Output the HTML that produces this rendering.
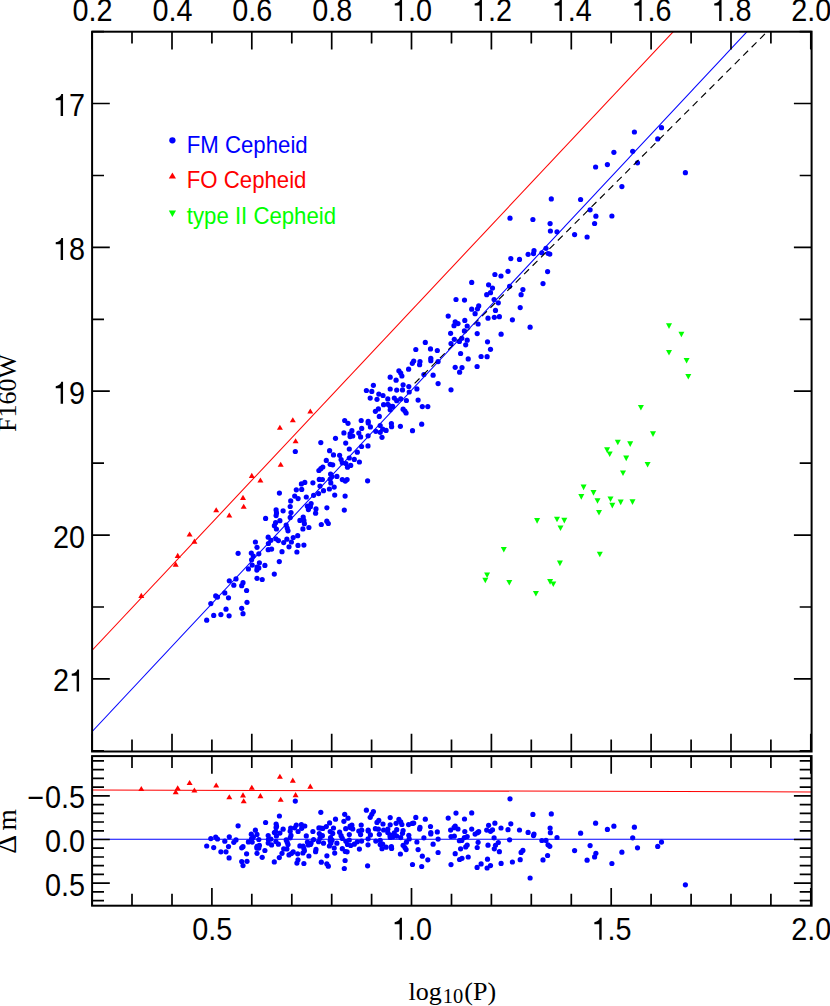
<!DOCTYPE html>
<html><head><meta charset="utf-8"><title>PL relation</title>
<style>html,body{margin:0;padding:0;background:#fff}body{width:830px;height:1006px;overflow:hidden}svg{display:block}.t{font-family:"Liberation Sans",sans-serif;font-size:28.8px;fill:#000}.s{font-family:"Liberation Serif",serif;font-size:26px;fill:#000}.l{font-family:"Liberation Sans",sans-serif;font-size:22.2px}</style></head><body>
<svg width="830" height="1006" viewBox="0 0 830 1006">
<rect width="830" height="1006" fill="#fff"/>
<clipPath id="c1"><rect x="92.1" y="31.7" width="719.5" height="719.8"/></clipPath>
<clipPath id="c2"><rect x="92.1" y="756.1" width="719.5" height="149.60000000000002"/></clipPath>
<g clip-path="url(#c1)">
<circle cx="206.7" cy="620.2" r="2.6" fill="#00f"/>
<circle cx="213.7" cy="615.4" r="2.6" fill="#00f"/>
<circle cx="220.9" cy="614.6" r="2.6" fill="#00f"/>
<circle cx="229.1" cy="615.8" r="2.6" fill="#00f"/>
<circle cx="226.0" cy="609.2" r="2.6" fill="#00f"/>
<circle cx="241.7" cy="608.3" r="2.6" fill="#00f"/>
<circle cx="243.0" cy="613.7" r="2.6" fill="#00f"/>
<circle cx="247.0" cy="602.3" r="2.6" fill="#00f"/>
<circle cx="210.8" cy="603.6" r="2.6" fill="#00f"/>
<circle cx="215.7" cy="595.9" r="2.6" fill="#00f"/>
<circle cx="217.5" cy="597.1" r="2.6" fill="#00f"/>
<circle cx="224.8" cy="592.9" r="2.6" fill="#00f"/>
<circle cx="228.5" cy="597.8" r="2.6" fill="#00f"/>
<circle cx="246.6" cy="590.5" r="2.6" fill="#00f"/>
<circle cx="233.8" cy="585.2" r="2.6" fill="#00f"/>
<circle cx="229.3" cy="580.8" r="2.6" fill="#00f"/>
<circle cx="236.0" cy="578.9" r="2.6" fill="#00f"/>
<circle cx="243.0" cy="582.7" r="2.6" fill="#00f"/>
<circle cx="241.7" cy="585.7" r="2.6" fill="#00f"/>
<circle cx="257.0" cy="578.3" r="2.6" fill="#00f"/>
<circle cx="262.2" cy="579.5" r="2.6" fill="#00f"/>
<circle cx="274.3" cy="574.1" r="2.6" fill="#00f"/>
<circle cx="248.4" cy="568.9" r="2.6" fill="#00f"/>
<circle cx="252.2" cy="565.1" r="2.6" fill="#00f"/>
<circle cx="256.8" cy="570.1" r="2.6" fill="#00f"/>
<circle cx="258.8" cy="567.9" r="2.6" fill="#00f"/>
<circle cx="257.0" cy="567.0" r="2.6" fill="#00f"/>
<circle cx="259.4" cy="562.8" r="2.6" fill="#00f"/>
<circle cx="264.9" cy="565.4" r="2.6" fill="#00f"/>
<circle cx="279.3" cy="561.6" r="2.6" fill="#00f"/>
<circle cx="251.6" cy="559.8" r="2.6" fill="#00f"/>
<circle cx="253.3" cy="556.0" r="2.6" fill="#00f"/>
<circle cx="251.3" cy="553.0" r="2.6" fill="#00f"/>
<circle cx="258.8" cy="553.8" r="2.6" fill="#00f"/>
<circle cx="238.1" cy="553.3" r="2.6" fill="#00f"/>
<circle cx="257.0" cy="547.3" r="2.6" fill="#00f"/>
<circle cx="255.4" cy="542.0" r="2.6" fill="#00f"/>
<circle cx="268.2" cy="549.7" r="2.6" fill="#00f"/>
<circle cx="271.6" cy="549.1" r="2.6" fill="#00f"/>
<circle cx="282.0" cy="551.7" r="2.6" fill="#00f"/>
<circle cx="268.4" cy="543.5" r="2.6" fill="#00f"/>
<circle cx="270.9" cy="540.3" r="2.6" fill="#00f"/>
<circle cx="268.2" cy="537.2" r="2.6" fill="#00f"/>
<circle cx="275.9" cy="538.8" r="2.6" fill="#00f"/>
<circle cx="278.4" cy="540.6" r="2.6" fill="#00f"/>
<circle cx="283.7" cy="542.6" r="2.6" fill="#00f"/>
<circle cx="286.9" cy="539.2" r="2.6" fill="#00f"/>
<circle cx="291.4" cy="542.0" r="2.6" fill="#00f"/>
<circle cx="289.0" cy="546.8" r="2.6" fill="#00f"/>
<circle cx="293.2" cy="537.5" r="2.6" fill="#00f"/>
<circle cx="274.4" cy="525.7" r="2.6" fill="#00f"/>
<circle cx="275.6" cy="522.7" r="2.6" fill="#00f"/>
<circle cx="276.4" cy="529.0" r="2.6" fill="#00f"/>
<circle cx="279.9" cy="520.7" r="2.6" fill="#00f"/>
<circle cx="286.2" cy="525.1" r="2.6" fill="#00f"/>
<circle cx="287.2" cy="528.0" r="2.6" fill="#00f"/>
<circle cx="288.0" cy="530.8" r="2.6" fill="#00f"/>
<circle cx="295.3" cy="451.5" r="2.6" fill="#00f"/>
<circle cx="320.8" cy="442.6" r="2.6" fill="#00f"/>
<circle cx="326.3" cy="460.4" r="2.6" fill="#00f"/>
<circle cx="322.8" cy="467.0" r="2.6" fill="#00f"/>
<circle cx="320.8" cy="468.7" r="2.6" fill="#00f"/>
<circle cx="318.9" cy="470.5" r="2.6" fill="#00f"/>
<circle cx="304.8" cy="482.4" r="2.6" fill="#00f"/>
<circle cx="301.4" cy="483.9" r="2.6" fill="#00f"/>
<circle cx="312.9" cy="482.8" r="2.6" fill="#00f"/>
<circle cx="319.3" cy="479.4" r="2.6" fill="#00f"/>
<circle cx="322.4" cy="479.5" r="2.6" fill="#00f"/>
<circle cx="320.0" cy="486.1" r="2.6" fill="#00f"/>
<circle cx="301.7" cy="489.4" r="2.6" fill="#00f"/>
<circle cx="296.3" cy="489.8" r="2.6" fill="#00f"/>
<circle cx="279.4" cy="493.1" r="2.6" fill="#00f"/>
<circle cx="294.7" cy="496.1" r="2.6" fill="#00f"/>
<circle cx="298.1" cy="498.6" r="2.6" fill="#00f"/>
<circle cx="306.3" cy="497.0" r="2.6" fill="#00f"/>
<circle cx="313.6" cy="495.3" r="2.6" fill="#00f"/>
<circle cx="318.6" cy="493.6" r="2.6" fill="#00f"/>
<circle cx="323.5" cy="490.7" r="2.6" fill="#00f"/>
<circle cx="290.7" cy="500.9" r="2.6" fill="#00f"/>
<circle cx="290.2" cy="506.5" r="2.6" fill="#00f"/>
<circle cx="311.1" cy="503.5" r="2.6" fill="#00f"/>
<circle cx="307.4" cy="506.2" r="2.6" fill="#00f"/>
<circle cx="310.4" cy="506.7" r="2.6" fill="#00f"/>
<circle cx="308.4" cy="509.6" r="2.6" fill="#00f"/>
<circle cx="316.0" cy="508.9" r="2.6" fill="#00f"/>
<circle cx="315.6" cy="513.2" r="2.6" fill="#00f"/>
<circle cx="326.9" cy="507.8" r="2.6" fill="#00f"/>
<circle cx="276.1" cy="509.9" r="2.6" fill="#00f"/>
<circle cx="276.5" cy="512.9" r="2.6" fill="#00f"/>
<circle cx="276.1" cy="515.6" r="2.6" fill="#00f"/>
<circle cx="283.1" cy="510.8" r="2.6" fill="#00f"/>
<circle cx="291.0" cy="512.6" r="2.6" fill="#00f"/>
<circle cx="290.2" cy="517.4" r="2.6" fill="#00f"/>
<circle cx="265.6" cy="518.4" r="2.6" fill="#00f"/>
<circle cx="303.2" cy="517.1" r="2.6" fill="#00f"/>
<circle cx="299.9" cy="520.4" r="2.6" fill="#00f"/>
<circle cx="303.9" cy="520.4" r="2.6" fill="#00f"/>
<circle cx="304.4" cy="523.7" r="2.6" fill="#00f"/>
<circle cx="308.9" cy="527.5" r="2.6" fill="#00f"/>
<circle cx="302.9" cy="528.9" r="2.6" fill="#00f"/>
<circle cx="321.3" cy="524.5" r="2.6" fill="#00f"/>
<circle cx="326.8" cy="521.2" r="2.6" fill="#00f"/>
<circle cx="328.3" cy="523.5" r="2.6" fill="#00f"/>
<circle cx="297.7" cy="535.7" r="2.6" fill="#00f"/>
<circle cx="298.0" cy="545.4" r="2.6" fill="#00f"/>
<circle cx="303.9" cy="545.1" r="2.6" fill="#00f"/>
<circle cx="296.9" cy="552.0" r="2.6" fill="#00f"/>
<circle cx="344.3" cy="510.1" r="2.6" fill="#00f"/>
<circle cx="334.7" cy="495.1" r="2.6" fill="#00f"/>
<circle cx="345.1" cy="496.1" r="2.6" fill="#00f"/>
<circle cx="329.4" cy="489.0" r="2.6" fill="#00f"/>
<circle cx="334.2" cy="487.1" r="2.6" fill="#00f"/>
<circle cx="330.8" cy="482.9" r="2.6" fill="#00f"/>
<circle cx="330.2" cy="479.0" r="2.6" fill="#00f"/>
<circle cx="332.0" cy="476.6" r="2.6" fill="#00f"/>
<circle cx="330.6" cy="474.0" r="2.6" fill="#00f"/>
<circle cx="336.9" cy="476.4" r="2.6" fill="#00f"/>
<circle cx="342.3" cy="479.6" r="2.6" fill="#00f"/>
<circle cx="345.3" cy="481.1" r="2.6" fill="#00f"/>
<circle cx="347.1" cy="479.6" r="2.6" fill="#00f"/>
<circle cx="367.6" cy="480.8" r="2.6" fill="#00f"/>
<circle cx="330.2" cy="464.3" r="2.6" fill="#00f"/>
<circle cx="332.7" cy="464.8" r="2.6" fill="#00f"/>
<circle cx="329.6" cy="450.7" r="2.6" fill="#00f"/>
<circle cx="333.5" cy="454.9" r="2.6" fill="#00f"/>
<circle cx="339.6" cy="455.3" r="2.6" fill="#00f"/>
<circle cx="341.1" cy="459.5" r="2.6" fill="#00f"/>
<circle cx="342.3" cy="462.8" r="2.6" fill="#00f"/>
<circle cx="345.9" cy="463.6" r="2.6" fill="#00f"/>
<circle cx="347.5" cy="467.2" r="2.6" fill="#00f"/>
<circle cx="350.7" cy="465.4" r="2.6" fill="#00f"/>
<circle cx="349.3" cy="458.0" r="2.6" fill="#00f"/>
<circle cx="354.3" cy="459.4" r="2.6" fill="#00f"/>
<circle cx="359.4" cy="462.0" r="2.6" fill="#00f"/>
<circle cx="357.3" cy="452.2" r="2.6" fill="#00f"/>
<circle cx="349.3" cy="449.0" r="2.6" fill="#00f"/>
<circle cx="345.7" cy="443.1" r="2.6" fill="#00f"/>
<circle cx="335.5" cy="438.3" r="2.6" fill="#00f"/>
<circle cx="343.9" cy="432.9" r="2.6" fill="#00f"/>
<circle cx="351.9" cy="430.7" r="2.6" fill="#00f"/>
<circle cx="350.1" cy="436.6" r="2.6" fill="#00f"/>
<circle cx="352.7" cy="436.0" r="2.6" fill="#00f"/>
<circle cx="358.8" cy="433.1" r="2.6" fill="#00f"/>
<circle cx="360.6" cy="436.9" r="2.6" fill="#00f"/>
<circle cx="361.7" cy="428.4" r="2.6" fill="#00f"/>
<circle cx="368.1" cy="435.8" r="2.6" fill="#00f"/>
<circle cx="361.6" cy="446.5" r="2.6" fill="#00f"/>
<circle cx="368.0" cy="445.9" r="2.6" fill="#00f"/>
<circle cx="348.0" cy="423.3" r="2.6" fill="#00f"/>
<circle cx="344.7" cy="420.5" r="2.6" fill="#00f"/>
<circle cx="361.2" cy="420.5" r="2.6" fill="#00f"/>
<circle cx="368.2" cy="421.3" r="2.6" fill="#00f"/>
<circle cx="370.4" cy="426.9" r="2.6" fill="#00f"/>
<circle cx="375.8" cy="431.3" r="2.6" fill="#00f"/>
<circle cx="380.2" cy="425.5" r="2.6" fill="#00f"/>
<circle cx="380.2" cy="432.3" r="2.6" fill="#00f"/>
<circle cx="382.7" cy="429.2" r="2.6" fill="#00f"/>
<circle cx="386.1" cy="430.4" r="2.6" fill="#00f"/>
<circle cx="382.0" cy="437.3" r="2.6" fill="#00f"/>
<circle cx="391.4" cy="423.6" r="2.6" fill="#00f"/>
<circle cx="391.6" cy="426.7" r="2.6" fill="#00f"/>
<circle cx="400.4" cy="426.3" r="2.6" fill="#00f"/>
<circle cx="412.5" cy="430.7" r="2.6" fill="#00f"/>
<circle cx="415.8" cy="349.5" r="2.6" fill="#00f"/>
<circle cx="413.7" cy="361.1" r="2.6" fill="#00f"/>
<circle cx="412.3" cy="363.3" r="2.6" fill="#00f"/>
<circle cx="408.6" cy="369.2" r="2.6" fill="#00f"/>
<circle cx="398.9" cy="370.8" r="2.6" fill="#00f"/>
<circle cx="400.7" cy="373.0" r="2.6" fill="#00f"/>
<circle cx="401.9" cy="376.0" r="2.6" fill="#00f"/>
<circle cx="390.2" cy="377.2" r="2.6" fill="#00f"/>
<circle cx="396.1" cy="380.2" r="2.6" fill="#00f"/>
<circle cx="403.1" cy="384.8" r="2.6" fill="#00f"/>
<circle cx="408.8" cy="386.5" r="2.6" fill="#00f"/>
<circle cx="373.4" cy="385.3" r="2.6" fill="#00f"/>
<circle cx="366.4" cy="390.5" r="2.6" fill="#00f"/>
<circle cx="371.8" cy="391.4" r="2.6" fill="#00f"/>
<circle cx="390.2" cy="389.0" r="2.6" fill="#00f"/>
<circle cx="396.7" cy="390.1" r="2.6" fill="#00f"/>
<circle cx="402.5" cy="389.9" r="2.6" fill="#00f"/>
<circle cx="409.2" cy="392.0" r="2.6" fill="#00f"/>
<circle cx="416.9" cy="388.9" r="2.6" fill="#00f"/>
<circle cx="378.8" cy="394.1" r="2.6" fill="#00f"/>
<circle cx="383.0" cy="395.5" r="2.6" fill="#00f"/>
<circle cx="370.2" cy="398.1" r="2.6" fill="#00f"/>
<circle cx="377.0" cy="399.3" r="2.6" fill="#00f"/>
<circle cx="387.8" cy="398.9" r="2.6" fill="#00f"/>
<circle cx="394.3" cy="398.1" r="2.6" fill="#00f"/>
<circle cx="396.7" cy="400.7" r="2.6" fill="#00f"/>
<circle cx="400.7" cy="398.9" r="2.6" fill="#00f"/>
<circle cx="406.4" cy="400.5" r="2.6" fill="#00f"/>
<circle cx="418.1" cy="400.1" r="2.6" fill="#00f"/>
<circle cx="383.6" cy="404.7" r="2.6" fill="#00f"/>
<circle cx="387.8" cy="404.3" r="2.6" fill="#00f"/>
<circle cx="389.9" cy="406.1" r="2.6" fill="#00f"/>
<circle cx="392.7" cy="406.4" r="2.6" fill="#00f"/>
<circle cx="390.2" cy="409.8" r="2.6" fill="#00f"/>
<circle cx="378.4" cy="408.9" r="2.6" fill="#00f"/>
<circle cx="375.4" cy="411.3" r="2.6" fill="#00f"/>
<circle cx="403.1" cy="409.2" r="2.6" fill="#00f"/>
<circle cx="404.9" cy="411.0" r="2.6" fill="#00f"/>
<circle cx="406.1" cy="413.0" r="2.6" fill="#00f"/>
<circle cx="379.3" cy="416.4" r="2.6" fill="#00f"/>
<circle cx="368.2" cy="423.0" r="2.6" fill="#00f"/>
<circle cx="350.1" cy="433.9" r="2.6" fill="#00f"/>
<circle cx="421.7" cy="424.2" r="2.6" fill="#00f"/>
<circle cx="422.3" cy="406.6" r="2.6" fill="#00f"/>
<circle cx="427.8" cy="406.6" r="2.6" fill="#00f"/>
<circle cx="451.0" cy="389.8" r="2.6" fill="#00f"/>
<circle cx="438.1" cy="383.6" r="2.6" fill="#00f"/>
<circle cx="433.1" cy="375.2" r="2.6" fill="#00f"/>
<circle cx="423.9" cy="374.6" r="2.6" fill="#00f"/>
<circle cx="459.6" cy="372.2" r="2.6" fill="#00f"/>
<circle cx="455.2" cy="367.3" r="2.6" fill="#00f"/>
<circle cx="462.0" cy="367.6" r="2.6" fill="#00f"/>
<circle cx="477.1" cy="366.5" r="2.6" fill="#00f"/>
<circle cx="438.1" cy="361.6" r="2.6" fill="#00f"/>
<circle cx="430.8" cy="358.3" r="2.6" fill="#00f"/>
<circle cx="430.8" cy="360.7" r="2.6" fill="#00f"/>
<circle cx="420.0" cy="361.6" r="2.6" fill="#00f"/>
<circle cx="419.6" cy="364.7" r="2.6" fill="#00f"/>
<circle cx="468.2" cy="358.9" r="2.6" fill="#00f"/>
<circle cx="481.1" cy="356.5" r="2.6" fill="#00f"/>
<circle cx="487.1" cy="356.7" r="2.6" fill="#00f"/>
<circle cx="460.6" cy="353.5" r="2.6" fill="#00f"/>
<circle cx="490.5" cy="349.3" r="2.6" fill="#00f"/>
<circle cx="430.5" cy="348.9" r="2.6" fill="#00f"/>
<circle cx="437.3" cy="350.5" r="2.6" fill="#00f"/>
<circle cx="425.3" cy="342.4" r="2.6" fill="#00f"/>
<circle cx="451.0" cy="343.5" r="2.6" fill="#00f"/>
<circle cx="454.3" cy="339.3" r="2.6" fill="#00f"/>
<circle cx="459.4" cy="341.4" r="2.6" fill="#00f"/>
<circle cx="461.8" cy="338.3" r="2.6" fill="#00f"/>
<circle cx="467.2" cy="340.2" r="2.6" fill="#00f"/>
<circle cx="465.7" cy="344.8" r="2.6" fill="#00f"/>
<circle cx="487.5" cy="341.8" r="2.6" fill="#00f"/>
<circle cx="450.6" cy="333.3" r="2.6" fill="#00f"/>
<circle cx="477.2" cy="333.6" r="2.6" fill="#00f"/>
<circle cx="501.1" cy="334.2" r="2.6" fill="#00f"/>
<circle cx="464.4" cy="330.9" r="2.6" fill="#00f"/>
<circle cx="508.0" cy="271.3" r="2.6" fill="#00f"/>
<circle cx="494.9" cy="274.5" r="2.6" fill="#00f"/>
<circle cx="501.0" cy="276.0" r="2.6" fill="#00f"/>
<circle cx="471.7" cy="282.4" r="2.6" fill="#00f"/>
<circle cx="488.6" cy="284.8" r="2.6" fill="#00f"/>
<circle cx="492.5" cy="288.1" r="2.6" fill="#00f"/>
<circle cx="490.5" cy="292.7" r="2.6" fill="#00f"/>
<circle cx="486.7" cy="294.7" r="2.6" fill="#00f"/>
<circle cx="456.0" cy="299.5" r="2.6" fill="#00f"/>
<circle cx="464.5" cy="300.1" r="2.6" fill="#00f"/>
<circle cx="494.1" cy="299.5" r="2.6" fill="#00f"/>
<circle cx="498.3" cy="302.8" r="2.6" fill="#00f"/>
<circle cx="478.7" cy="305.9" r="2.6" fill="#00f"/>
<circle cx="477.5" cy="308.8" r="2.6" fill="#00f"/>
<circle cx="471.7" cy="309.2" r="2.6" fill="#00f"/>
<circle cx="475.1" cy="313.7" r="2.6" fill="#00f"/>
<circle cx="495.5" cy="310.4" r="2.6" fill="#00f"/>
<circle cx="448.2" cy="316.1" r="2.6" fill="#00f"/>
<circle cx="499.4" cy="316.7" r="2.6" fill="#00f"/>
<circle cx="494.3" cy="317.3" r="2.6" fill="#00f"/>
<circle cx="488.0" cy="318.2" r="2.6" fill="#00f"/>
<circle cx="464.8" cy="320.4" r="2.6" fill="#00f"/>
<circle cx="455.2" cy="321.8" r="2.6" fill="#00f"/>
<circle cx="458.0" cy="323.6" r="2.6" fill="#00f"/>
<circle cx="454.0" cy="325.7" r="2.6" fill="#00f"/>
<circle cx="467.2" cy="326.0" r="2.6" fill="#00f"/>
<circle cx="478.1" cy="324.0" r="2.6" fill="#00f"/>
<circle cx="530.1" cy="327.2" r="2.6" fill="#00f"/>
<circle cx="512.4" cy="319.8" r="2.6" fill="#00f"/>
<circle cx="520.2" cy="307.6" r="2.6" fill="#00f"/>
<circle cx="521.1" cy="294.7" r="2.6" fill="#00f"/>
<circle cx="522.9" cy="289.5" r="2.6" fill="#00f"/>
<circle cx="509.6" cy="286.3" r="2.6" fill="#00f"/>
<circle cx="543.0" cy="283.6" r="2.6" fill="#00f"/>
<circle cx="547.6" cy="271.6" r="2.6" fill="#00f"/>
<circle cx="510.8" cy="258.6" r="2.6" fill="#00f"/>
<circle cx="519.5" cy="259.4" r="2.6" fill="#00f"/>
<circle cx="528.1" cy="254.3" r="2.6" fill="#00f"/>
<circle cx="533.5" cy="253.7" r="2.6" fill="#00f"/>
<circle cx="534.0" cy="250.7" r="2.6" fill="#00f"/>
<circle cx="541.9" cy="252.9" r="2.6" fill="#00f"/>
<circle cx="546.0" cy="248.3" r="2.6" fill="#00f"/>
<circle cx="548.0" cy="253.5" r="2.6" fill="#00f"/>
<circle cx="549.8" cy="254.1" r="2.6" fill="#00f"/>
<circle cx="550.4" cy="231.0" r="2.6" fill="#00f"/>
<circle cx="557.0" cy="231.8" r="2.6" fill="#00f"/>
<circle cx="550.1" cy="223.6" r="2.6" fill="#00f"/>
<circle cx="574.6" cy="234.6" r="2.6" fill="#00f"/>
<circle cx="587.1" cy="237.0" r="2.6" fill="#00f"/>
<circle cx="594.6" cy="223.5" r="2.6" fill="#00f"/>
<circle cx="613.9" cy="152.3" r="2.6" fill="#00f"/>
<circle cx="607.4" cy="164.6" r="2.6" fill="#00f"/>
<circle cx="595.6" cy="167.0" r="2.6" fill="#00f"/>
<circle cx="551.3" cy="198.9" r="2.6" fill="#00f"/>
<circle cx="580.6" cy="199.5" r="2.6" fill="#00f"/>
<circle cx="590.1" cy="209.8" r="2.6" fill="#00f"/>
<circle cx="595.9" cy="216.2" r="2.6" fill="#00f"/>
<circle cx="611.9" cy="216.0" r="2.6" fill="#00f"/>
<circle cx="532.9" cy="219.5" r="2.6" fill="#00f"/>
<circle cx="634.4" cy="132.0" r="2.6" fill="#00f"/>
<circle cx="661.5" cy="127.7" r="2.6" fill="#00f"/>
<circle cx="657.7" cy="138.9" r="2.6" fill="#00f"/>
<circle cx="632.7" cy="151.3" r="2.6" fill="#00f"/>
<circle cx="637.5" cy="162.8" r="2.6" fill="#00f"/>
<circle cx="685.4" cy="172.7" r="2.6" fill="#00f"/>
<circle cx="621.9" cy="186.6" r="2.6" fill="#00f"/>
<circle cx="510.0" cy="218.2" r="2.6" fill="#00f"/>
<path d="M307.3 413.6L313.3 413.6L310.3 408.5Z" fill="#f00"/>
<path d="M289.8 422.3L295.8 422.3L292.8 417.2Z" fill="#f00"/>
<path d="M276.9 429.8L282.9 429.8L279.9 424.7Z" fill="#f00"/>
<path d="M292.6 443.3L298.6 443.3L295.6 438.2Z" fill="#f00"/>
<path d="M277.7 466.8L283.7 466.8L280.7 461.7Z" fill="#f00"/>
<path d="M248.8 477.9L254.8 477.9L251.8 472.8Z" fill="#f00"/>
<path d="M257.4 482.5L263.4 482.5L260.4 477.4Z" fill="#f00"/>
<path d="M240.0 499.9L246.0 499.9L243.0 494.8Z" fill="#f00"/>
<path d="M240.7 508.8L246.7 508.8L243.7 503.7Z" fill="#f00"/>
<path d="M213.2 512.3L219.2 512.3L216.2 507.2Z" fill="#f00"/>
<path d="M226.3 517.6L232.3 517.6L229.3 512.5Z" fill="#f00"/>
<path d="M186.6 536.6L192.6 536.6L189.6 531.5Z" fill="#f00"/>
<path d="M191.4 543.7L197.4 543.7L194.4 538.6Z" fill="#f00"/>
<path d="M174.7 557.9L180.7 557.9L177.7 552.8Z" fill="#f00"/>
<path d="M172.7 566.7L178.7 566.7L175.7 561.6Z" fill="#f00"/>
<path d="M138.3 597.9L144.3 597.9L141.3 592.8Z" fill="#f00"/>
<path d="M666.0 323.3L672.0 323.3L669.0 328.9Z" fill="#0f0"/>
<path d="M678.4 331.7L684.4 331.7L681.4 337.3Z" fill="#0f0"/>
<path d="M666.0 349.9L672.0 349.9L669.0 355.5Z" fill="#0f0"/>
<path d="M683.6 358.0L689.6 358.0L686.6 363.6Z" fill="#0f0"/>
<path d="M685.3 373.9L691.3 373.9L688.3 379.5Z" fill="#0f0"/>
<path d="M637.9 404.9L643.9 404.9L640.9 410.5Z" fill="#0f0"/>
<path d="M650.0 431.3L656.0 431.3L653.0 436.9Z" fill="#0f0"/>
<path d="M614.8 439.7L620.8 439.7L617.8 445.3Z" fill="#0f0"/>
<path d="M627.2 441.3L633.2 441.3L630.2 446.9Z" fill="#0f0"/>
<path d="M604.1 447.3L610.1 447.3L607.1 452.9Z" fill="#0f0"/>
<path d="M606.7 451.5L612.7 451.5L609.7 457.1Z" fill="#0f0"/>
<path d="M623.2 455.6L629.2 455.6L626.2 461.2Z" fill="#0f0"/>
<path d="M644.6 462.0L650.6 462.0L647.6 467.6Z" fill="#0f0"/>
<path d="M620.0 470.4L626.0 470.4L623.0 476.0Z" fill="#0f0"/>
<path d="M580.6 484.6L586.6 484.6L583.6 490.2Z" fill="#0f0"/>
<path d="M590.5 490.1L596.5 490.1L593.5 495.7Z" fill="#0f0"/>
<path d="M578.3 494.1L584.3 494.1L581.3 499.7Z" fill="#0f0"/>
<path d="M594.5 498.2L600.5 498.2L597.5 503.8Z" fill="#0f0"/>
<path d="M607.5 496.4L613.5 496.4L610.5 502.0Z" fill="#0f0"/>
<path d="M609.3 502.8L615.3 502.8L612.3 508.4Z" fill="#0f0"/>
<path d="M617.7 499.6L623.7 499.6L620.7 505.2Z" fill="#0f0"/>
<path d="M629.5 499.3L635.5 499.3L632.5 504.9Z" fill="#0f0"/>
<path d="M596.0 510.0L602.0 510.0L599.0 515.6Z" fill="#0f0"/>
<path d="M534.1 518.1L540.1 518.1L537.1 523.7Z" fill="#0f0"/>
<path d="M554.0 516.7L560.0 516.7L557.0 522.3Z" fill="#0f0"/>
<path d="M561.3 517.8L567.3 517.8L564.3 523.4Z" fill="#0f0"/>
<path d="M557.5 525.4L563.5 525.4L560.5 531.0Z" fill="#0f0"/>
<path d="M500.8 547.0L506.8 547.0L503.8 552.6Z" fill="#0f0"/>
<path d="M596.8 551.7L602.8 551.7L599.8 557.3Z" fill="#0f0"/>
<path d="M556.9 560.6L562.9 560.6L559.9 566.2Z" fill="#0f0"/>
<path d="M484.1 572.5L490.1 572.5L487.1 578.1Z" fill="#0f0"/>
<path d="M482.3 577.7L488.3 577.7L485.3 583.3Z" fill="#0f0"/>
<path d="M506.3 580.0L512.3 580.0L509.3 585.6Z" fill="#0f0"/>
<path d="M547.1 579.1L553.1 579.1L550.1 584.7Z" fill="#0f0"/>
<path d="M550.3 581.5L556.3 581.5L553.3 587.1Z" fill="#0f0"/>
<path d="M532.9 591.0L538.9 591.0L535.9 596.6Z" fill="#0f0"/>
<line x1="412" y1="386" x2="812" y2="-13.0" stroke="#000" stroke-width="1.15" stroke-dasharray="6.9 5.0" stroke-dashoffset="-3.7"/>
<line x1="92" y1="650.4" x2="792" y2="-94.7" stroke="#f00" stroke-width="1.05"/>
<line x1="92" y1="731.7" x2="792" y2="-16.4" stroke="#00f" stroke-width="1.05"/>
</g>
<g clip-path="url(#c2)">
<circle cx="206.7" cy="846.0" r="2.6" fill="#00f"/>
<circle cx="213.7" cy="847.6" r="2.6" fill="#00f"/>
<circle cx="220.9" cy="851.8" r="2.6" fill="#00f"/>
<circle cx="229.1" cy="857.9" r="2.6" fill="#00f"/>
<circle cx="226.0" cy="851.8" r="2.6" fill="#00f"/>
<circle cx="241.7" cy="861.5" r="2.6" fill="#00f"/>
<circle cx="243.0" cy="865.6" r="2.6" fill="#00f"/>
<circle cx="247.0" cy="861.3" r="2.6" fill="#00f"/>
<circle cx="210.8" cy="838.6" r="2.6" fill="#00f"/>
<circle cx="215.7" cy="837.1" r="2.6" fill="#00f"/>
<circle cx="217.5" cy="839.0" r="2.6" fill="#00f"/>
<circle cx="224.8" cy="841.2" r="2.6" fill="#00f"/>
<circle cx="228.5" cy="846.6" r="2.6" fill="#00f"/>
<circle cx="246.6" cy="853.8" r="2.6" fill="#00f"/>
<circle cx="233.8" cy="842.3" r="2.6" fill="#00f"/>
<circle cx="229.3" cy="836.8" r="2.6" fill="#00f"/>
<circle cx="236.0" cy="839.9" r="2.6" fill="#00f"/>
<circle cx="243.0" cy="846.7" r="2.6" fill="#00f"/>
<circle cx="241.7" cy="847.8" r="2.6" fill="#00f"/>
<circle cx="257.0" cy="853.3" r="2.6" fill="#00f"/>
<circle cx="262.2" cy="857.3" r="2.6" fill="#00f"/>
<circle cx="274.3" cy="861.9" r="2.6" fill="#00f"/>
<circle cx="248.4" cy="841.9" r="2.6" fill="#00f"/>
<circle cx="252.2" cy="842.1" r="2.6" fill="#00f"/>
<circle cx="256.8" cy="848.1" r="2.6" fill="#00f"/>
<circle cx="258.8" cy="848.1" r="2.6" fill="#00f"/>
<circle cx="257.0" cy="846.4" r="2.6" fill="#00f"/>
<circle cx="259.4" cy="845.4" r="2.6" fill="#00f"/>
<circle cx="264.9" cy="850.5" r="2.6" fill="#00f"/>
<circle cx="279.3" cy="857.6" r="2.6" fill="#00f"/>
<circle cx="251.6" cy="838.5" r="2.6" fill="#00f"/>
<circle cx="253.3" cy="837.3" r="2.6" fill="#00f"/>
<circle cx="251.3" cy="834.2" r="2.6" fill="#00f"/>
<circle cx="258.8" cy="839.5" r="2.6" fill="#00f"/>
<circle cx="238.1" cy="825.8" r="2.6" fill="#00f"/>
<circle cx="257.0" cy="834.4" r="2.6" fill="#00f"/>
<circle cx="255.4" cy="830.2" r="2.6" fill="#00f"/>
<circle cx="268.2" cy="843.1" r="2.6" fill="#00f"/>
<circle cx="271.6" cy="844.9" r="2.6" fill="#00f"/>
<circle cx="282.0" cy="853.3" r="2.6" fill="#00f"/>
<circle cx="268.4" cy="839.5" r="2.6" fill="#00f"/>
<circle cx="270.9" cy="839.1" r="2.6" fill="#00f"/>
<circle cx="268.2" cy="835.5" r="2.6" fill="#00f"/>
<circle cx="275.9" cy="841.5" r="2.6" fill="#00f"/>
<circle cx="278.4" cy="844.2" r="2.6" fill="#00f"/>
<circle cx="283.7" cy="848.9" r="2.6" fill="#00f"/>
<circle cx="286.9" cy="848.9" r="2.6" fill="#00f"/>
<circle cx="291.4" cy="853.5" r="2.6" fill="#00f"/>
<circle cx="289.0" cy="854.9" r="2.6" fill="#00f"/>
<circle cx="293.2" cy="851.9" r="2.6" fill="#00f"/>
<circle cx="274.4" cy="832.6" r="2.6" fill="#00f"/>
<circle cx="275.6" cy="831.6" r="2.6" fill="#00f"/>
<circle cx="276.4" cy="835.9" r="2.6" fill="#00f"/>
<circle cx="279.9" cy="833.1" r="2.6" fill="#00f"/>
<circle cx="286.2" cy="839.9" r="2.6" fill="#00f"/>
<circle cx="287.2" cy="842.3" r="2.6" fill="#00f"/>
<circle cx="288.0" cy="844.5" r="2.6" fill="#00f"/>
<circle cx="295.3" cy="801.1" r="2.6" fill="#00f"/>
<circle cx="320.8" cy="812.3" r="2.6" fill="#00f"/>
<circle cx="326.3" cy="826.6" r="2.6" fill="#00f"/>
<circle cx="322.8" cy="828.4" r="2.6" fill="#00f"/>
<circle cx="320.8" cy="828.1" r="2.6" fill="#00f"/>
<circle cx="318.9" cy="827.9" r="2.6" fill="#00f"/>
<circle cx="304.8" cy="826.0" r="2.6" fill="#00f"/>
<circle cx="301.4" cy="824.7" r="2.6" fill="#00f"/>
<circle cx="312.9" cy="831.5" r="2.6" fill="#00f"/>
<circle cx="319.3" cy="833.6" r="2.6" fill="#00f"/>
<circle cx="322.4" cy="835.7" r="2.6" fill="#00f"/>
<circle cx="320.0" cy="838.2" r="2.6" fill="#00f"/>
<circle cx="301.7" cy="828.3" r="2.6" fill="#00f"/>
<circle cx="296.3" cy="825.1" r="2.6" fill="#00f"/>
<circle cx="279.4" cy="816.0" r="2.6" fill="#00f"/>
<circle cx="294.7" cy="827.8" r="2.6" fill="#00f"/>
<circle cx="298.1" cy="831.5" r="2.6" fill="#00f"/>
<circle cx="306.3" cy="835.9" r="2.6" fill="#00f"/>
<circle cx="313.6" cy="839.6" r="2.6" fill="#00f"/>
<circle cx="318.6" cy="841.7" r="2.6" fill="#00f"/>
<circle cx="323.5" cy="843.2" r="2.6" fill="#00f"/>
<circle cx="290.7" cy="828.1" r="2.6" fill="#00f"/>
<circle cx="290.2" cy="831.2" r="2.6" fill="#00f"/>
<circle cx="311.1" cy="842.9" r="2.6" fill="#00f"/>
<circle cx="307.4" cy="842.1" r="2.6" fill="#00f"/>
<circle cx="310.4" cy="844.4" r="2.6" fill="#00f"/>
<circle cx="308.4" cy="844.9" r="2.6" fill="#00f"/>
<circle cx="316.0" cy="849.4" r="2.6" fill="#00f"/>
<circle cx="315.6" cy="851.7" r="2.6" fill="#00f"/>
<circle cx="326.9" cy="855.8" r="2.6" fill="#00f"/>
<circle cx="276.1" cy="824.1" r="2.6" fill="#00f"/>
<circle cx="276.5" cy="826.2" r="2.6" fill="#00f"/>
<circle cx="276.1" cy="827.6" r="2.6" fill="#00f"/>
<circle cx="283.1" cy="829.2" r="2.6" fill="#00f"/>
<circle cx="291.0" cy="835.4" r="2.6" fill="#00f"/>
<circle cx="290.2" cy="837.8" r="2.6" fill="#00f"/>
<circle cx="265.6" cy="822.5" r="2.6" fill="#00f"/>
<circle cx="303.2" cy="846.0" r="2.6" fill="#00f"/>
<circle cx="299.9" cy="845.9" r="2.6" fill="#00f"/>
<circle cx="303.9" cy="848.5" r="2.6" fill="#00f"/>
<circle cx="304.4" cy="850.8" r="2.6" fill="#00f"/>
<circle cx="308.9" cy="856.0" r="2.6" fill="#00f"/>
<circle cx="302.9" cy="853.0" r="2.6" fill="#00f"/>
<circle cx="321.3" cy="862.2" r="2.6" fill="#00f"/>
<circle cx="326.8" cy="863.8" r="2.6" fill="#00f"/>
<circle cx="328.3" cy="866.2" r="2.6" fill="#00f"/>
<circle cx="297.7" cy="853.8" r="2.6" fill="#00f"/>
<circle cx="298.0" cy="859.8" r="2.6" fill="#00f"/>
<circle cx="303.9" cy="863.5" r="2.6" fill="#00f"/>
<circle cx="296.9" cy="863.1" r="2.6" fill="#00f"/>
<circle cx="344.3" cy="868.5" r="2.6" fill="#00f"/>
<circle cx="334.7" cy="853.1" r="2.6" fill="#00f"/>
<circle cx="345.1" cy="860.5" r="2.6" fill="#00f"/>
<circle cx="329.4" cy="846.0" r="2.6" fill="#00f"/>
<circle cx="334.2" cy="848.0" r="2.6" fill="#00f"/>
<circle cx="330.8" cy="843.2" r="2.6" fill="#00f"/>
<circle cx="330.2" cy="840.5" r="2.6" fill="#00f"/>
<circle cx="332.0" cy="840.2" r="2.6" fill="#00f"/>
<circle cx="330.6" cy="837.6" r="2.6" fill="#00f"/>
<circle cx="336.9" cy="843.2" r="2.6" fill="#00f"/>
<circle cx="342.3" cy="848.7" r="2.6" fill="#00f"/>
<circle cx="345.3" cy="851.5" r="2.6" fill="#00f"/>
<circle cx="347.1" cy="851.8" r="2.6" fill="#00f"/>
<circle cx="367.6" cy="865.8" r="2.6" fill="#00f"/>
<circle cx="330.2" cy="831.6" r="2.6" fill="#00f"/>
<circle cx="332.7" cy="833.4" r="2.6" fill="#00f"/>
<circle cx="329.6" cy="822.9" r="2.6" fill="#00f"/>
<circle cx="333.5" cy="828.0" r="2.6" fill="#00f"/>
<circle cx="339.6" cy="832.2" r="2.6" fill="#00f"/>
<circle cx="341.1" cy="835.7" r="2.6" fill="#00f"/>
<circle cx="342.3" cy="838.4" r="2.6" fill="#00f"/>
<circle cx="345.9" cy="841.3" r="2.6" fill="#00f"/>
<circle cx="347.5" cy="844.5" r="2.6" fill="#00f"/>
<circle cx="350.7" cy="845.5" r="2.6" fill="#00f"/>
<circle cx="349.3" cy="840.0" r="2.6" fill="#00f"/>
<circle cx="354.3" cy="844.2" r="2.6" fill="#00f"/>
<circle cx="359.4" cy="849.1" r="2.6" fill="#00f"/>
<circle cx="357.3" cy="841.8" r="2.6" fill="#00f"/>
<circle cx="349.3" cy="834.6" r="2.6" fill="#00f"/>
<circle cx="345.7" cy="828.7" r="2.6" fill="#00f"/>
<circle cx="335.5" cy="819.2" r="2.6" fill="#00f"/>
<circle cx="343.9" cy="821.3" r="2.6" fill="#00f"/>
<circle cx="351.9" cy="825.2" r="2.6" fill="#00f"/>
<circle cx="350.1" cy="827.6" r="2.6" fill="#00f"/>
<circle cx="352.7" cy="828.9" r="2.6" fill="#00f"/>
<circle cx="358.8" cy="831.1" r="2.6" fill="#00f"/>
<circle cx="360.6" cy="834.6" r="2.6" fill="#00f"/>
<circle cx="361.7" cy="830.2" r="2.6" fill="#00f"/>
<circle cx="368.1" cy="838.8" r="2.6" fill="#00f"/>
<circle cx="361.6" cy="841.1" r="2.6" fill="#00f"/>
<circle cx="368.0" cy="844.8" r="2.6" fill="#00f"/>
<circle cx="348.0" cy="818.2" r="2.6" fill="#00f"/>
<circle cx="344.7" cy="814.3" r="2.6" fill="#00f"/>
<circle cx="361.2" cy="825.0" r="2.6" fill="#00f"/>
<circle cx="368.2" cy="830.0" r="2.6" fill="#00f"/>
<circle cx="370.4" cy="834.9" r="2.6" fill="#00f"/>
<circle cx="375.8" cy="841.1" r="2.6" fill="#00f"/>
<circle cx="380.2" cy="840.4" r="2.6" fill="#00f"/>
<circle cx="380.2" cy="844.6" r="2.6" fill="#00f"/>
<circle cx="382.7" cy="844.2" r="2.6" fill="#00f"/>
<circle cx="386.1" cy="847.2" r="2.6" fill="#00f"/>
<circle cx="382.0" cy="848.7" r="2.6" fill="#00f"/>
<circle cx="391.4" cy="846.5" r="2.6" fill="#00f"/>
<circle cx="391.6" cy="848.5" r="2.6" fill="#00f"/>
<circle cx="400.4" cy="854.0" r="2.6" fill="#00f"/>
<circle cx="412.5" cy="864.5" r="2.6" fill="#00f"/>
<circle cx="415.8" cy="817.4" r="2.6" fill="#00f"/>
<circle cx="413.7" cy="823.1" r="2.6" fill="#00f"/>
<circle cx="412.3" cy="823.4" r="2.6" fill="#00f"/>
<circle cx="408.6" cy="824.6" r="2.6" fill="#00f"/>
<circle cx="398.9" cy="819.4" r="2.6" fill="#00f"/>
<circle cx="400.7" cy="821.9" r="2.6" fill="#00f"/>
<circle cx="401.9" cy="824.5" r="2.6" fill="#00f"/>
<circle cx="390.2" cy="817.6" r="2.6" fill="#00f"/>
<circle cx="396.1" cy="823.3" r="2.6" fill="#00f"/>
<circle cx="403.1" cy="830.6" r="2.6" fill="#00f"/>
<circle cx="408.8" cy="835.3" r="2.6" fill="#00f"/>
<circle cx="373.4" cy="811.6" r="2.6" fill="#00f"/>
<circle cx="366.4" cy="810.2" r="2.6" fill="#00f"/>
<circle cx="371.8" cy="814.3" r="2.6" fill="#00f"/>
<circle cx="390.2" cy="824.8" r="2.6" fill="#00f"/>
<circle cx="396.7" cy="829.7" r="2.6" fill="#00f"/>
<circle cx="402.5" cy="833.3" r="2.6" fill="#00f"/>
<circle cx="409.2" cy="838.9" r="2.6" fill="#00f"/>
<circle cx="416.9" cy="842.0" r="2.6" fill="#00f"/>
<circle cx="378.8" cy="820.4" r="2.6" fill="#00f"/>
<circle cx="383.0" cy="824.0" r="2.6" fill="#00f"/>
<circle cx="370.2" cy="817.3" r="2.6" fill="#00f"/>
<circle cx="377.0" cy="822.4" r="2.6" fill="#00f"/>
<circle cx="387.8" cy="829.2" r="2.6" fill="#00f"/>
<circle cx="394.3" cy="832.9" r="2.6" fill="#00f"/>
<circle cx="396.7" cy="836.1" r="2.6" fill="#00f"/>
<circle cx="400.7" cy="837.6" r="2.6" fill="#00f"/>
<circle cx="406.4" cy="842.2" r="2.6" fill="#00f"/>
<circle cx="418.1" cy="849.6" r="2.6" fill="#00f"/>
<circle cx="383.6" cy="830.0" r="2.6" fill="#00f"/>
<circle cx="387.8" cy="832.5" r="2.6" fill="#00f"/>
<circle cx="389.9" cy="834.9" r="2.6" fill="#00f"/>
<circle cx="392.7" cy="836.9" r="2.6" fill="#00f"/>
<circle cx="390.2" cy="837.4" r="2.6" fill="#00f"/>
<circle cx="378.4" cy="829.2" r="2.6" fill="#00f"/>
<circle cx="375.4" cy="828.7" r="2.6" fill="#00f"/>
<circle cx="403.1" cy="845.3" r="2.6" fill="#00f"/>
<circle cx="404.9" cy="847.6" r="2.6" fill="#00f"/>
<circle cx="406.1" cy="849.6" r="2.6" fill="#00f"/>
<circle cx="379.3" cy="834.3" r="2.6" fill="#00f"/>
<circle cx="368.2" cy="831.1" r="2.6" fill="#00f"/>
<circle cx="350.1" cy="826.0" r="2.6" fill="#00f"/>
<circle cx="421.7" cy="866.5" r="2.6" fill="#00f"/>
<circle cx="422.3" cy="856.2" r="2.6" fill="#00f"/>
<circle cx="427.8" cy="859.8" r="2.6" fill="#00f"/>
<circle cx="451.0" cy="864.6" r="2.6" fill="#00f"/>
<circle cx="438.1" cy="852.5" r="2.6" fill="#00f"/>
<circle cx="433.1" cy="844.2" r="2.6" fill="#00f"/>
<circle cx="423.9" cy="837.8" r="2.6" fill="#00f"/>
<circle cx="459.6" cy="859.5" r="2.6" fill="#00f"/>
<circle cx="455.2" cy="853.7" r="2.6" fill="#00f"/>
<circle cx="462.0" cy="858.3" r="2.6" fill="#00f"/>
<circle cx="477.1" cy="867.4" r="2.6" fill="#00f"/>
<circle cx="438.1" cy="839.1" r="2.6" fill="#00f"/>
<circle cx="430.8" cy="832.5" r="2.6" fill="#00f"/>
<circle cx="430.8" cy="833.9" r="2.6" fill="#00f"/>
<circle cx="420.0" cy="827.4" r="2.6" fill="#00f"/>
<circle cx="419.6" cy="829.1" r="2.6" fill="#00f"/>
<circle cx="468.2" cy="857.0" r="2.6" fill="#00f"/>
<circle cx="481.1" cy="863.9" r="2.6" fill="#00f"/>
<circle cx="487.1" cy="868.0" r="2.6" fill="#00f"/>
<circle cx="460.6" cy="848.8" r="2.6" fill="#00f"/>
<circle cx="490.5" cy="865.6" r="2.6" fill="#00f"/>
<circle cx="430.5" cy="826.5" r="2.6" fill="#00f"/>
<circle cx="437.3" cy="831.9" r="2.6" fill="#00f"/>
<circle cx="425.3" cy="819.2" r="2.6" fill="#00f"/>
<circle cx="451.0" cy="836.5" r="2.6" fill="#00f"/>
<circle cx="454.3" cy="836.2" r="2.6" fill="#00f"/>
<circle cx="459.4" cy="840.7" r="2.6" fill="#00f"/>
<circle cx="461.8" cy="840.4" r="2.6" fill="#00f"/>
<circle cx="467.2" cy="845.1" r="2.6" fill="#00f"/>
<circle cx="465.7" cy="846.9" r="2.6" fill="#00f"/>
<circle cx="487.5" cy="859.2" r="2.6" fill="#00f"/>
<circle cx="450.6" cy="830.1" r="2.6" fill="#00f"/>
<circle cx="477.2" cy="847.5" r="2.6" fill="#00f"/>
<circle cx="501.1" cy="863.4" r="2.6" fill="#00f"/>
<circle cx="464.4" cy="837.6" r="2.6" fill="#00f"/>
<circle cx="508.0" cy="829.7" r="2.6" fill="#00f"/>
<circle cx="494.9" cy="823.2" r="2.6" fill="#00f"/>
<circle cx="501.0" cy="828.0" r="2.6" fill="#00f"/>
<circle cx="471.7" cy="812.9" r="2.6" fill="#00f"/>
<circle cx="488.6" cy="825.3" r="2.6" fill="#00f"/>
<circle cx="492.5" cy="829.8" r="2.6" fill="#00f"/>
<circle cx="490.5" cy="831.3" r="2.6" fill="#00f"/>
<circle cx="486.7" cy="830.1" r="2.6" fill="#00f"/>
<circle cx="456.0" cy="813.1" r="2.6" fill="#00f"/>
<circle cx="464.5" cy="819.0" r="2.6" fill="#00f"/>
<circle cx="494.1" cy="837.8" r="2.6" fill="#00f"/>
<circle cx="498.3" cy="842.5" r="2.6" fill="#00f"/>
<circle cx="478.7" cy="831.7" r="2.6" fill="#00f"/>
<circle cx="477.5" cy="832.7" r="2.6" fill="#00f"/>
<circle cx="471.7" cy="829.1" r="2.6" fill="#00f"/>
<circle cx="475.1" cy="834.1" r="2.6" fill="#00f"/>
<circle cx="495.5" cy="845.3" r="2.6" fill="#00f"/>
<circle cx="448.2" cy="818.1" r="2.6" fill="#00f"/>
<circle cx="499.4" cy="851.7" r="2.6" fill="#00f"/>
<circle cx="494.3" cy="848.8" r="2.6" fill="#00f"/>
<circle cx="488.0" cy="845.2" r="2.6" fill="#00f"/>
<circle cx="464.8" cy="831.5" r="2.6" fill="#00f"/>
<circle cx="455.2" cy="826.1" r="2.6" fill="#00f"/>
<circle cx="458.0" cy="829.0" r="2.6" fill="#00f"/>
<circle cx="454.0" cy="827.7" r="2.6" fill="#00f"/>
<circle cx="467.2" cy="836.5" r="2.6" fill="#00f"/>
<circle cx="478.1" cy="842.3" r="2.6" fill="#00f"/>
<circle cx="530.1" cy="878.0" r="2.6" fill="#00f"/>
<circle cx="512.4" cy="862.0" r="2.6" fill="#00f"/>
<circle cx="520.2" cy="859.7" r="2.6" fill="#00f"/>
<circle cx="521.1" cy="852.4" r="2.6" fill="#00f"/>
<circle cx="522.9" cy="850.4" r="2.6" fill="#00f"/>
<circle cx="509.6" cy="839.8" r="2.6" fill="#00f"/>
<circle cx="543.0" cy="859.9" r="2.6" fill="#00f"/>
<circle cx="547.6" cy="855.5" r="2.6" fill="#00f"/>
<circle cx="510.8" cy="823.8" r="2.6" fill="#00f"/>
<circle cx="519.5" cy="830.0" r="2.6" fill="#00f"/>
<circle cx="528.1" cy="832.4" r="2.6" fill="#00f"/>
<circle cx="533.5" cy="835.6" r="2.6" fill="#00f"/>
<circle cx="534.0" cy="834.1" r="2.6" fill="#00f"/>
<circle cx="541.9" cy="840.5" r="2.6" fill="#00f"/>
<circle cx="546.0" cy="840.4" r="2.6" fill="#00f"/>
<circle cx="548.0" cy="844.8" r="2.6" fill="#00f"/>
<circle cx="549.8" cy="846.3" r="2.6" fill="#00f"/>
<circle cx="550.4" cy="832.7" r="2.6" fill="#00f"/>
<circle cx="557.0" cy="837.5" r="2.6" fill="#00f"/>
<circle cx="550.1" cy="828.0" r="2.6" fill="#00f"/>
<circle cx="574.6" cy="850.6" r="2.6" fill="#00f"/>
<circle cx="587.1" cy="860.2" r="2.6" fill="#00f"/>
<circle cx="594.6" cy="856.9" r="2.6" fill="#00f"/>
<circle cx="613.9" cy="826.2" r="2.6" fill="#00f"/>
<circle cx="607.4" cy="829.4" r="2.6" fill="#00f"/>
<circle cx="595.6" cy="823.2" r="2.6" fill="#00f"/>
<circle cx="551.3" cy="813.9" r="2.6" fill="#00f"/>
<circle cx="580.6" cy="833.2" r="2.6" fill="#00f"/>
<circle cx="590.1" cy="845.6" r="2.6" fill="#00f"/>
<circle cx="595.9" cy="853.3" r="2.6" fill="#00f"/>
<circle cx="611.9" cy="863.5" r="2.6" fill="#00f"/>
<circle cx="532.9" cy="814.4" r="2.6" fill="#00f"/>
<circle cx="634.4" cy="827.2" r="2.6" fill="#00f"/>
<circle cx="661.5" cy="842.1" r="2.6" fill="#00f"/>
<circle cx="657.7" cy="846.4" r="2.6" fill="#00f"/>
<circle cx="632.7" cy="837.8" r="2.6" fill="#00f"/>
<circle cx="637.5" cy="847.8" r="2.6" fill="#00f"/>
<circle cx="685.4" cy="884.8" r="2.6" fill="#00f"/>
<circle cx="621.9" cy="852.2" r="2.6" fill="#00f"/>
<circle cx="510.0" cy="798.8" r="2.6" fill="#00f"/>
<path d="M307.3 788.7L313.3 788.7L310.3 783.6Z" fill="#f00"/>
<path d="M289.8 782.7L295.8 782.7L292.8 777.6Z" fill="#f00"/>
<path d="M276.9 778.8L282.9 778.8L279.9 773.7Z" fill="#f00"/>
<path d="M292.6 797.2L298.6 797.2L295.6 792.1Z" fill="#f00"/>
<path d="M277.7 801.8L283.7 801.8L280.7 796.7Z" fill="#f00"/>
<path d="M248.8 789.8L254.8 789.8L251.8 784.7Z" fill="#f00"/>
<path d="M257.4 798.2L263.4 798.2L260.4 793.1Z" fill="#f00"/>
<path d="M240.0 797.4L246.0 797.4L243.0 792.3Z" fill="#f00"/>
<path d="M240.7 803.3L246.7 803.3L243.7 798.2Z" fill="#f00"/>
<path d="M213.2 787.6L219.2 787.6L216.2 782.5Z" fill="#f00"/>
<path d="M226.3 799.3L232.3 799.3L229.3 794.2Z" fill="#f00"/>
<path d="M186.6 785.1L192.6 785.1L189.6 780.0Z" fill="#f00"/>
<path d="M191.4 792.5L197.4 792.5L194.4 787.4Z" fill="#f00"/>
<path d="M174.7 790.3L180.7 790.3L177.7 785.2Z" fill="#f00"/>
<path d="M172.7 794.3L178.7 794.3L175.7 789.2Z" fill="#f00"/>
<path d="M138.3 791.0L144.3 791.0L141.3 785.9Z" fill="#f00"/>
<line x1="92.1" y1="790.0" x2="811.6" y2="791.9" stroke="#f00" stroke-width="1.05"/>
<line x1="92.1" y1="839.3" x2="811.6" y2="839.3" stroke="#00f" stroke-width="1.05"/>
</g>
<circle cx="172.4" cy="140.3" r="3.15" fill="#00f"/>
<path d="M168.8 178.6L176.0 178.6L172.4 172.5Z" fill="#f00"/>
<path d="M168.8 210.4L176.0 210.4L172.4 217.1Z" fill="#0f0"/>
<text class="l" transform="translate(186.8,152.7) scale(1,1.05)" fill="#00f">FM Cepheid</text>
<text class="l" transform="translate(186.8,188.3) scale(1,1.05)" fill="#f00">FO Cepheid</text>
<text class="l" transform="translate(186.8,223.7) scale(1,1.05)" fill="#0f0">type II Cepheid</text>
<rect x="92.1" y="31.7" width="719.5" height="719.8" fill="none" stroke="#000" stroke-width="2.0"/>
<rect x="92.1" y="756.1" width="719.5" height="149.60000000000002" fill="none" stroke="#000" stroke-width="2.0"/>
<path d="M92.1 31.7v17.7M92.1 751.5v-17.7M132.0 31.7v11.9M132.0 751.5v-11.9M172.0 31.7v17.7M172.0 751.5v-17.7M211.9 31.7v11.9M211.9 751.5v-11.9M251.8 31.7v17.7M251.8 751.5v-17.7M291.8 31.7v11.9M291.8 751.5v-11.9M331.7 31.7v17.7M331.7 751.5v-17.7M371.6 31.7v11.9M371.6 751.5v-11.9M411.5 31.7v17.7M411.5 751.5v-17.7M451.5 31.7v11.9M451.5 751.5v-11.9M491.4 31.7v17.7M491.4 751.5v-17.7M531.3 31.7v11.9M531.3 751.5v-11.9M571.3 31.7v17.7M571.3 751.5v-17.7M611.2 31.7v11.9M611.2 751.5v-11.9M651.1 31.7v17.7M651.1 751.5v-17.7M691.1 31.7v11.9M691.1 751.5v-11.9M731.0 31.7v17.7M731.0 751.5v-17.7M770.9 31.7v11.9M770.9 751.5v-11.9M810.8 31.7v17.7M810.8 751.5v-17.7M92.1 31.6h11.9M811.6 31.6h-11.9M92.1 103.5h17.7M811.6 103.5h-17.7M92.1 175.5h11.9M811.6 175.5h-11.9M92.1 247.4h17.7M811.6 247.4h-17.7M92.1 319.3h11.9M811.6 319.3h-11.9M92.1 391.2h17.7M811.6 391.2h-17.7M92.1 463.2h11.9M811.6 463.2h-11.9M92.1 535.1h17.7M811.6 535.1h-17.7M92.1 607.0h11.9M811.6 607.0h-11.9M92.1 678.9h17.7M811.6 678.9h-17.7M92.1 750.9h11.9M811.6 750.9h-11.9M92.1 756.1v11.9M92.1 905.7v-11.9M132.0 756.1v11.9M132.0 905.7v-11.9M172.0 756.1v11.9M172.0 905.7v-11.9M211.9 756.1v17.7M211.9 905.7v-17.7M251.8 756.1v11.9M251.8 905.7v-11.9M291.8 756.1v11.9M291.8 905.7v-11.9M331.7 756.1v11.9M331.7 905.7v-11.9M371.6 756.1v11.9M371.6 905.7v-11.9M411.5 756.1v17.7M411.5 905.7v-17.7M451.5 756.1v11.9M451.5 905.7v-11.9M491.4 756.1v11.9M491.4 905.7v-11.9M531.3 756.1v11.9M531.3 905.7v-11.9M571.3 756.1v11.9M571.3 905.7v-11.9M611.2 756.1v17.7M611.2 905.7v-17.7M651.1 756.1v11.9M651.1 905.7v-11.9M691.1 756.1v11.9M691.1 905.7v-11.9M731.0 756.1v11.9M731.0 905.7v-11.9M770.9 756.1v11.9M770.9 905.7v-11.9M810.8 756.1v17.7M810.8 905.7v-17.7M92.1 760.9h11.9M811.6 760.9h-11.9M92.1 769.6h11.9M811.6 769.6h-11.9M92.1 778.4h11.9M811.6 778.4h-11.9M92.1 787.1h11.9M811.6 787.1h-11.9M92.1 795.8h17.7M811.6 795.8h-17.7M92.1 804.6h11.9M811.6 804.6h-11.9M92.1 813.3h11.9M811.6 813.3h-11.9M92.1 822.0h11.9M811.6 822.0h-11.9M92.1 830.8h11.9M811.6 830.8h-11.9M92.1 839.5h17.7M811.6 839.5h-17.7M92.1 848.2h11.9M811.6 848.2h-11.9M92.1 857.0h11.9M811.6 857.0h-11.9M92.1 865.7h11.9M811.6 865.7h-11.9M92.1 874.4h11.9M811.6 874.4h-11.9M92.1 883.2h17.7M811.6 883.2h-17.7M92.1 891.9h11.9M811.6 891.9h-11.9M92.1 900.6h11.9M811.6 900.6h-11.9" stroke="#000" stroke-width="1.7" fill="none"/>
<g transform="translate(92.6,21.1) scale(1,1.077)"><text class="t" x="-20.02" y="0">0.2</text></g>
<g transform="translate(172.5,21.1) scale(1,1.077)"><text class="t" x="-20.02" y="0">0.4</text></g>
<g transform="translate(252.3,21.1) scale(1,1.077)"><text class="t" x="-20.02" y="0">0.6</text></g>
<g transform="translate(332.2,21.1) scale(1,1.077)"><text class="t" x="-20.02" y="0">0.8</text></g>
<g transform="translate(412.0,21.1) scale(1,1.077)"><path transform="translate(-20.02,0) scale(0.0288,-0.0288)" d="M266 0L350 0L350 709L290 709C278 640 208 582 96 568L96 505L266 505Z"/><text class="t" x="-4.00" y="0">.0</text></g>
<g transform="translate(491.9,21.1) scale(1,1.077)"><path transform="translate(-20.02,0) scale(0.0288,-0.0288)" d="M266 0L350 0L350 709L290 709C278 640 208 582 96 568L96 505L266 505Z"/><text class="t" x="-4.00" y="0">.2</text></g>
<g transform="translate(571.8,21.1) scale(1,1.077)"><path transform="translate(-20.02,0) scale(0.0288,-0.0288)" d="M266 0L350 0L350 709L290 709C278 640 208 582 96 568L96 505L266 505Z"/><text class="t" x="-4.00" y="0">.4</text></g>
<g transform="translate(651.6,21.1) scale(1,1.077)"><path transform="translate(-20.02,0) scale(0.0288,-0.0288)" d="M266 0L350 0L350 709L290 709C278 640 208 582 96 568L96 505L266 505Z"/><text class="t" x="-4.00" y="0">.6</text></g>
<g transform="translate(731.5,21.1) scale(1,1.077)"><path transform="translate(-20.02,0) scale(0.0288,-0.0288)" d="M266 0L350 0L350 709L290 709C278 640 208 582 96 568L96 505L266 505Z"/><text class="t" x="-4.00" y="0">.8</text></g>
<g transform="translate(811.3,21.1) scale(1,1.077)"><text class="t" x="-20.02" y="0">2.0</text></g>
<g transform="translate(85.0,116.0) scale(1,1.077)"><path transform="translate(-32.03,0) scale(0.0288,-0.0288)" d="M266 0L350 0L350 709L290 709C278 640 208 582 96 568L96 505L266 505Z"/><text class="t" x="-16.02" y="0">7</text></g>
<g transform="translate(85.0,259.9) scale(1,1.077)"><path transform="translate(-32.03,0) scale(0.0288,-0.0288)" d="M266 0L350 0L350 709L290 709C278 640 208 582 96 568L96 505L266 505Z"/><text class="t" x="-16.02" y="0">8</text></g>
<g transform="translate(85.0,403.8) scale(1,1.077)"><path transform="translate(-32.03,0) scale(0.0288,-0.0288)" d="M266 0L350 0L350 709L290 709C278 640 208 582 96 568L96 505L266 505Z"/><text class="t" x="-16.02" y="0">9</text></g>
<g transform="translate(85.0,547.6) scale(1,1.077)"><text class="t" x="-32.03" y="0">20</text></g>
<g transform="translate(85.0,691.4) scale(1,1.077)"><text class="t" x="-32.03" y="0">2</text><path transform="translate(-16.02,0) scale(0.0288,-0.0288)" d="M266 0L350 0L350 709L290 709C278 640 208 582 96 568L96 505L266 505Z"/></g>
<g transform="translate(85.0,808.2) scale(1,1.077)"><text class="t" x="-57.89" y="0">−</text><text class="t" x="-40.03" y="0">0.5</text></g>
<g transform="translate(85.0,851.9) scale(1,1.077)"><text class="t" x="-40.03" y="0">0.0</text></g>
<g transform="translate(85.0,895.6) scale(1,1.077)"><text class="t" x="-40.03" y="0">0.5</text></g>
<g transform="translate(212.3,939.8) scale(1,1.077)"><text class="t" x="-20.02" y="0">0.5</text></g>
<g transform="translate(411.9,939.8) scale(1,1.077)"><path transform="translate(-20.02,0) scale(0.0288,-0.0288)" d="M266 0L350 0L350 709L290 709C278 640 208 582 96 568L96 505L266 505Z"/><text class="t" x="-4.00" y="0">.0</text></g>
<g transform="translate(611.6,939.8) scale(1,1.077)"><path transform="translate(-20.02,0) scale(0.0288,-0.0288)" d="M266 0L350 0L350 709L290 709C278 640 208 582 96 568L96 505L266 505Z"/><text class="t" x="-4.00" y="0">.5</text></g>
<g transform="translate(811.2,939.8) scale(1,1.077)"><text class="t" x="-20.02" y="0">2.0</text></g>
<text class="s" transform="translate(16,432) rotate(-90)">F160W</text>
<text class="s" transform="translate(16,853.8) rotate(-90)"><tspan font-size="29.5">Δ</tspan><tspan x="23.4" font-size="27.5">m</tspan></text>
<text class="s" x="408.6" y="999.5" font-size="26.6">log<tspan font-size="20.5" dx="1" dy="3.2">10</tspan><tspan dx="1" dy="-3.2">(P)</tspan></text>
</svg></body></html>
